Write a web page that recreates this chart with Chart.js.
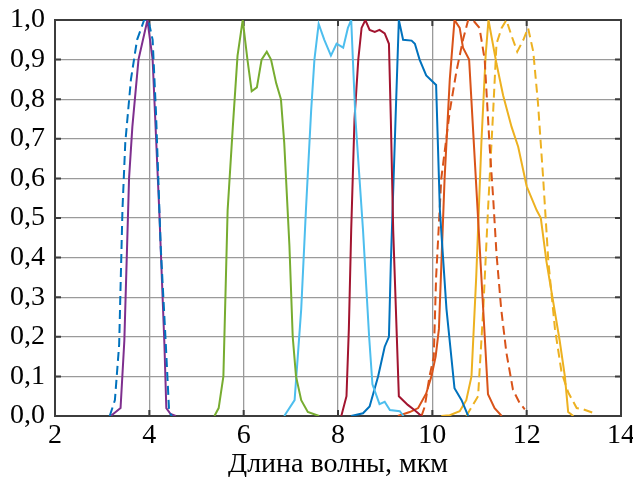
<!DOCTYPE html>
<html>
<head>
<meta charset="utf-8">
<script src="https://cdn.jsdelivr.net/npm/chart.js@4"></script>
<style>
    html, body { margin: 0; padding: 0; background: #fff; }
    #wrap { width: 633px; height: 477px; }
</style>
</head>
<body>
<div id="wrap"><canvas id="spectra" width="633" height="477"></canvas></div>
<script>
// Wavelength (x) and relative transmission (y) for each filter curve
const blueDashX = [3.16, 3.27, 3.36, 3.43, 3.49, 3.61, 3.74, 3.89, 3.98, 4.07, 4.14, 4.24, 4.35, 4.42, 4.48];
const blueDashY = [0, 0.04, 0.18, 0.52, 0.69, 0.85, 0.95, 1.0, 1.0, 0.95, 0.77, 0.43, 0.18, 0.01, 0];

const purpleX = [3.18, 3.39, 3.47, 3.57, 3.64, 3.77, 3.96, 4.07, 4.21, 4.32, 4.36, 4.45, 4.56];
const purpleY = [0, 0.02, 0.19, 0.60, 0.73, 0.90, 1.0, 0.90, 0.52, 0.18, 0.02, 0.005, 0];

const greenX = [5.38, 5.47, 5.57, 5.66, 5.77, 5.87, 5.98, 6.08, 6.17, 6.28, 6.38, 6.49, 6.58, 6.69, 6.79, 6.86, 6.97, 7.04, 7.11, 7.22, 7.36, 7.6];
const greenY = [0, 0.02, 0.10, 0.52, 0.73, 0.91, 1.0, 0.90, 0.82, 0.83, 0.90, 0.92, 0.90, 0.84, 0.80, 0.69, 0.43, 0.20, 0.10, 0.04, 0.01, 0];

const lightBlueX = [6.86, 7.08, 7.22, 7.32, 7.43, 7.50, 7.59, 7.71, 7.85, 7.97, 8.11, 8.21, 8.28, 8.33, 8.37, 8.53, 8.66, 8.73, 8.88, 8.99, 9.10, 9.31, 9.39];
const lightBlueY = [0, 0.04, 0.27, 0.52, 0.77, 0.90, 0.99, 0.95, 0.91, 0.94, 0.93, 0.98, 1.0, 0.86, 0.75, 0.47, 0.20, 0.08, 0.03, 0.036, 0.015, 0.012, 0];

const crimsonX = [8.07, 8.18, 8.23, 8.28, 8.35, 8.43, 8.50, 8.58, 8.67, 8.78, 8.88, 8.99, 9.08, 9.12, 9.17, 9.29, 9.48, 9.62, 9.77];
const crimsonY = [0, 0.05, 0.22, 0.47, 0.75, 0.90, 0.98, 1.0, 0.975, 0.97, 0.975, 0.966, 0.94, 0.75, 0.47, 0.05, 0.028, 0.015, 0];

const blueX = [8.28, 8.53, 8.67, 8.85, 8.99, 9.08, 9.12, 9.22, 9.29, 9.38, 9.56, 9.63, 9.73, 9.87, 10.08, 10.16, 10.30, 10.47, 10.62, 10.76];
const blueY = [0, 0.007, 0.024, 0.10, 0.175, 0.20, 0.385, 0.75, 1.0, 0.95, 0.948, 0.94, 0.90, 0.86, 0.836, 0.52, 0.27, 0.07, 0.04, 0];

const orangeX = [9.27, 9.52, 9.70, 9.87, 9.98, 10.07, 10.14, 10.26, 10.37, 10.47, 10.58, 10.65, 10.78, 11.18, 11.32, 11.47];
const orangeY = [0, 0.01, 0.02, 0.057, 0.10, 0.15, 0.22, 0.60, 0.85, 1.0, 0.98, 0.93, 0.90, 0.055, 0.02, 0];

const orangeDashX = [9.77, 9.84, 9.94, 10.03, 10.08, 10.19, 10.37, 10.51, 10.65, 10.76, 10.86, 11.0, 11.11, 11.21, 11.29, 11.36, 11.46, 11.57, 11.71, 11.85, 11.96];
const orangeDashY = [0, 0.024, 0.10, 0.15, 0.35, 0.60, 0.77, 0.87, 0.95, 1.0, 1.0, 0.98, 0.90, 0.69, 0.55, 0.41, 0.27, 0.16, 0.066, 0.033, 0.017];

const yellowX = [10.19, 10.37, 10.58, 10.72, 10.83, 10.93, 11.04, 11.13, 11.19, 11.36, 11.50, 11.68, 11.82, 12.0, 12.21, 12.30, 12.42, 12.56, 12.70, 12.81, 12.88, 12.99];
const yellowY = [0, 0.002, 0.012, 0.04, 0.10, 0.35, 0.69, 0.91, 1.0, 0.89, 0.81, 0.73, 0.68, 0.58, 0.52, 0.50, 0.39, 0.29, 0.19, 0.10, 0.01, 0];

const yellowDashX = [10.72, 10.97, 11.08, 11.18, 11.29, 11.36, 11.47, 11.57, 11.68, 11.80, 11.93, 12.03, 12.14, 12.24, 12.35, 12.46, 12.60, 12.74, 12.88, 13.06, 13.2, 13.41];
const yellowDashY = [0, 0.05, 0.27, 0.52, 0.77, 0.94, 0.98, 1.0, 0.96, 0.92, 0.95, 0.98, 0.92, 0.79, 0.60, 0.39, 0.22, 0.11, 0.06, 0.02, 0.017, 0.008];

// Axis ranges and title
const xTicks = [2, 4, 6, 8, 10, 12, 14];
const xTitle = 'Длина волны, мкм';

const serif = 'Liberation Serif';

// Combine x and y arrays into points for Chart.js
function toPoints(xs, ys) {
    return xs.map((x, i) => ({ x: x, y: ys[i] }));
}

function series(xs, ys, color, dashed) {
    return {
        data: toPoints(xs, ys),
        borderColor: color,
        borderWidth: 2,
        borderDash: dashed ? [9, 5] : [],
        pointRadius: 0,
        tension: 0,
        fill: false
    };
}

// Frame and inward tick marks, drawn like the original plot box
const frameTicks = {
    id: 'frameTicks',
    beforeDatasetsDraw(chart) {
        const ctx = chart.ctx;
        const area = chart.chartArea;
        const xs = chart.scales.x;
        const ys = chart.scales.y;
        const len = 6;
        ctx.save();
        ctx.strokeStyle = '#3c3c3c';
        ctx.lineWidth = 2;
        ctx.beginPath();
        xs.ticks.forEach(t => {
            const px = xs.getPixelForValue(t.value);
            ctx.moveTo(px, area.bottom);
            ctx.lineTo(px, area.bottom - len);
            ctx.moveTo(px, area.top);
            ctx.lineTo(px, area.top + len);
        });
        ys.ticks.forEach(t => {
            const py = ys.getPixelForValue(t.value);
            ctx.moveTo(area.left, py);
            ctx.lineTo(area.left + len, py);
            ctx.moveTo(area.right, py);
            ctx.lineTo(area.right - len, py);
        });
        ctx.stroke();
        ctx.strokeRect(area.left, area.top, area.right - area.left, area.bottom - area.top);
        ctx.restore();
    }
};

const ctxSpectra = document.getElementById('spectra').getContext('2d');
const spectraChart = new Chart(ctxSpectra, {
    type: 'line',
    data: {
        datasets: [
            series(blueDashX, blueDashY, '#0072BD', true),
            series(purpleX, purpleY, '#7E2F8E', false),
            series(greenX, greenY, '#77AC30', false),
            series(lightBlueX, lightBlueY, '#4DBEEE', false),
            series(crimsonX, crimsonY, '#A2142F', false),
            series(blueX, blueY, '#0072BD', false),
            series(orangeX, orangeY, '#D95319', false),
            series(orangeDashX, orangeDashY, '#D95319', true),
            series(yellowX, yellowY, '#EDB120', false),
            series(yellowDashX, yellowDashY, '#EDB120', true)
        ]
    },
    options: {
        responsive: false,
        animation: false,
        layout: { padding: { top: 20, right: 12, left: 0, bottom: 0 } },
        plugins: {
            legend: { display: false },
            tooltip: { enabled: false }
        },
        scales: {
            x: {
                type: 'linear',
                min: xTicks[0],
                max: xTicks[xTicks.length - 1],
                afterBuildTicks: scale => { scale.ticks = xTicks.map(v => ({ value: v })); },
                afterFit: scale => {
                    scale.height = 61;
                    scale.paddingLeft = 0;
                    scale.paddingRight = 0;
                },
                ticks: {
                    color: '#000',
                    font: { family: serif, size: 28 },
                    padding: 3,
                    maxRotation: 0
                },
                grid: { color: '#9a9a9a', lineWidth: 1.3, drawTicks: false },
                border: { display: false },
                title: {
                    display: true,
                    text: xTitle,
                    color: '#000',
                    font: { family: serif, size: 28 },
                    padding: { top: 0, bottom: -4 }
                }
            },
            y: {
                min: 0,
                max: 1,
                ticks: {
                    stepSize: 0.1,
                    color: '#000',
                    font: { family: serif, size: 28 },
                    padding: 10,
                    callback: v => v.toFixed(1).replace('.', ',')
                },
                afterFit: scale => {
                    scale.width = 55;
                    scale.paddingTop = 0;
                    scale.paddingBottom = 0;
                },
                grid: { color: '#9a9a9a', lineWidth: 1.3, drawTicks: false },
                border: { display: false }
            }
        }
    },
    plugins: [frameTicks]
});
</script>
</body>
</html>
